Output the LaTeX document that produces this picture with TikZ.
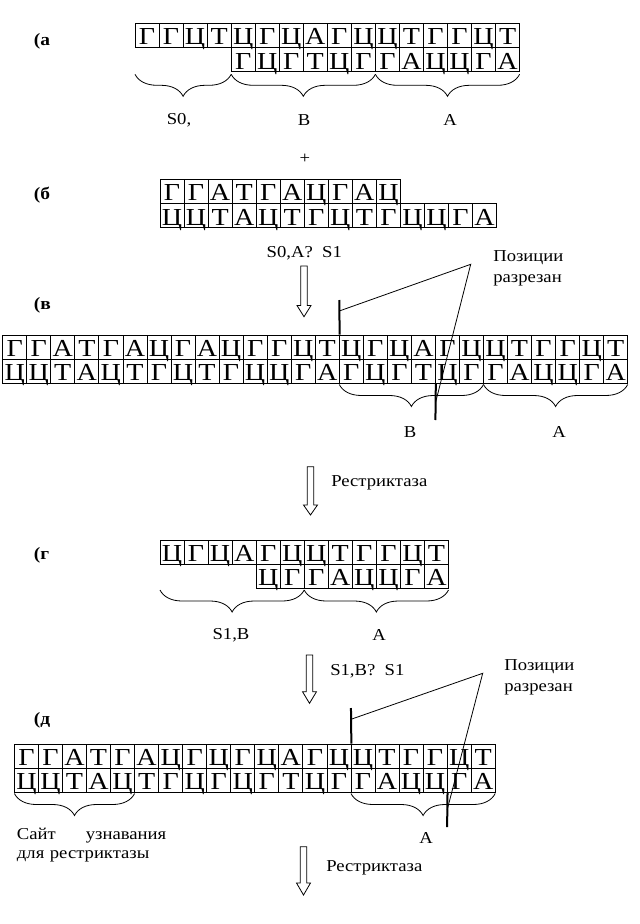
\documentclass[tikz,border=0pt]{standalone}
\usepackage{fontspec}
\setmainfont{Liberation Serif}
\newfontfamily\cellfnt[FakeStretch=1.15]{Liberation Serif}
\newfontfamily\lblfnt[FakeStretch=1.12]{Liberation Serif}
\usetikzlibrary{decorations.pathreplacing}
\tikzset{
  x=0.75pt, y=-0.75pt,
  cell/.style={draw, line width=0.6pt, minimum width=18.03pt, minimum height=18.11pt,
    inner sep=0pt, text height=14pt, text depth=0pt,
    font=\cellfnt\fontsize{18.3}{19}\selectfont},
  lbl/.style={inner sep=0pt, font=\lblfnt\fontsize{12.5}{15.75}\selectfont},
  sitelbl/.style={inner sep=0pt, font=\lblfnt\fontsize{12.5}{14.25}\selectfont},
  sec/.style={inner sep=0pt, anchor=west, font=\lblfnt\bfseries\fontsize{13}{15}\selectfont},
  wbrace/.style={decorate, decoration={brace, mirror, amplitude=16.5pt}, line width=0.6pt},
  thinline/.style={line width=0.6pt},
  cutmark/.style={line width=1.5pt},
  blockarrow/.style={draw, line width=0.6pt, fill=white},
}
\newcommand\dnarow[5]{%
  \foreach \l [count=\i] in {#5}{%
    \node[cell] (#1\i) at ({#2+(\i-1+#4)*24.04+12.02},{#3+12.075}) {\l};
  }%
}
\newcommand\blockarr[4]{% cx, y0, yh, y1
  \draw[blockarrow] (#1-3.2,#2) -- (#1+3.2,#2) -- (#1+3.2,#3) -- (#1+7,#3) -- (#1,#4)
    -- (#1-7,#3) -- (#1-3.2,#3) -- cycle;
}
\begin{document}
\begin{tikzpicture}
\fill[white] (0,0) rectangle (639,924);
\useasboundingbox (0,0) rectangle (639,924);

% ---------- (a)
\node[sec] (secA) at (33.6,41.7) {(а};
\dnarow{aT}{135}{23.5}{0}{Г,Г,Ц,Т,Ц,Г,Ц,А,Г,Ц,Ц,Т,Г,Г,Ц,Т}
\dnarow{aB}{135}{47.65}{4}{Г,Ц,Г,Т,Ц,Г,Г,А,Ц,Ц,Г,А}
\draw[wbrace] (135,74.3) -- (231.2,74.3);
\draw[wbrace] (231.2,74.3) -- (375.4,74.3);
\draw[wbrace] (375.4,74.3) -- (519.6,74.3);
\node[lbl] (aS0) at (179,120) {S0,};
\node[lbl] (aBl) at (304,120) {B};
\node[lbl] (aAl) at (450,120) {A};
\node[lbl] (plus) at (305,159) {+};

% ---------- (б)
\node[sec] (secB) at (33.6,195) {(б};
\dnarow{bT}{160}{179.5}{0}{Г,Г,А,Т,Г,А,Ц,Г,А,Ц}
\dnarow{bB}{160}{203.65}{0}{Ц,Ц,Т,А,Ц,Т,Г,Ц,Т,Г,Ц,Ц,Г,А}
\node[lbl, anchor=west] (bLig) at (266.4,253.3) {S0,A?~~S1};
\blockarr{304}{266}{305.5}{316.7}
\node[lbl, anchor=north west, align=left] (posV) at (493,250.7) {Позиции\\разрезан};

% ---------- (в)
\node[sec] (secV) at (33.6,305) {(в};
\dnarow{vT}{2.7}{335}{0}{Г,Г,А,Т,Г,А,Ц,Г,А,Ц,Г,Г,Ц,Т,Ц,Г,Ц,А,Г,Ц,Ц,Т,Г,Г,Ц,Т}
\dnarow{vB}{2.7}{359.15}{0}{Ц,Ц,Т,А,Ц,Т,Г,Ц,Т,Г,Ц,Ц,Г,А,Г,Ц,Г,Т,Ц,Г,Г,А,Ц,Ц,Г,А}
\draw[wbrace] (339.3,384.5) -- (483.5,384.5);
\draw[wbrace] (483.5,384.5) -- (627.7,384.5);
\node[lbl] (vBl) at (410,432) {B};
\node[lbl] (vAl) at (559,432) {A};
\coordinate (vTop) at (339.26,300);
\coordinate (vJoin) at (339.26,311);
\coordinate (vApex) at (470.7,264.3);
\coordinate (vEnd) at (435.42,403);
\coordinate (vLow) at (435.42,420);
\draw[cutmark] (vTop) -- (vT14.north east);
\draw[cutmark] (vB18.south east) -- (vLow);
\draw[thinline] (vJoin) -- (vApex) -- (vEnd);
\blockarr{310.5}{466.7}{505}{515}
\node[lbl, anchor=west] (restr1) at (331,483) {Рестриктаза};

% ---------- (г)
\node[sec] (secG) at (33.6,555) {(г};
\dnarow{gT}{160}{540}{0}{Ц,Г,Ц,А,Г,Ц,Ц,Т,Г,Г,Ц,Т}
\dnarow{gB}{160}{564.15}{4}{Ц,Г,Г,А,Ц,Ц,Г,А}
\draw[wbrace] (160,590) -- (304.2,590);
\draw[wbrace] (304.2,590) -- (448.5,590);
\node[lbl] (gS1) at (231,635) {S1,B};
\node[lbl] (gAl) at (379,635) {A};
\blockarr{309.5}{655}{691.7}{703.3}
\node[lbl, anchor=west] (gLig) at (330,671.7) {S1,B?~~S1};
\node[lbl, anchor=north west, align=left] (posD) at (504,659.7) {Позиции\\разрезан};

% ---------- (д)
\node[sec] (secD) at (33.6,720) {(д};
\dnarow{dT}{14.4}{744}{0}{Г,Г,А,Т,Г,А,Ц,Г,Ц,Г,Ц,А,Г,Ц,Ц,Т,Г,Г,Ц,Т}
\dnarow{dB}{14.4}{768.15}{0}{Ц,Ц,Т,А,Ц,Т,Г,Ц,Г,Ц,Г,Т,Ц,Г,Г,А,Ц,Ц,Г,А}
\draw[wbrace] (14.4,793.5) -- (134.6,793.5);
\draw[wbrace] (351,793.5) -- (495.2,793.5);
\coordinate (dTop) at (350.96,708);
\coordinate (dJoin) at (350.96,719.3);
\coordinate (dApex) at (482.7,673.3);
\coordinate (dEnd) at (447.12,810);
\coordinate (dLow) at (447.12,827);
\draw[cutmark] (dTop) -- (dT14.north east);
\draw[cutmark] (dB18.south east) -- (dLow);
\draw[thinline] (dJoin) -- (dApex) -- (dEnd);
\node[sitelbl, anchor=north west, text width=112pt, align=left] (site) at (16.7,828)
  {Сайт\hfill узнавания\\для рестриктазы};
\node[lbl] (dAl) at (426,838) {A};
\blockarr{303.5}{846.7}{883}{895}
\node[lbl, anchor=west] (restr2) at (326,868) {Рестриктаза};
\end{tikzpicture}
\end{document}
